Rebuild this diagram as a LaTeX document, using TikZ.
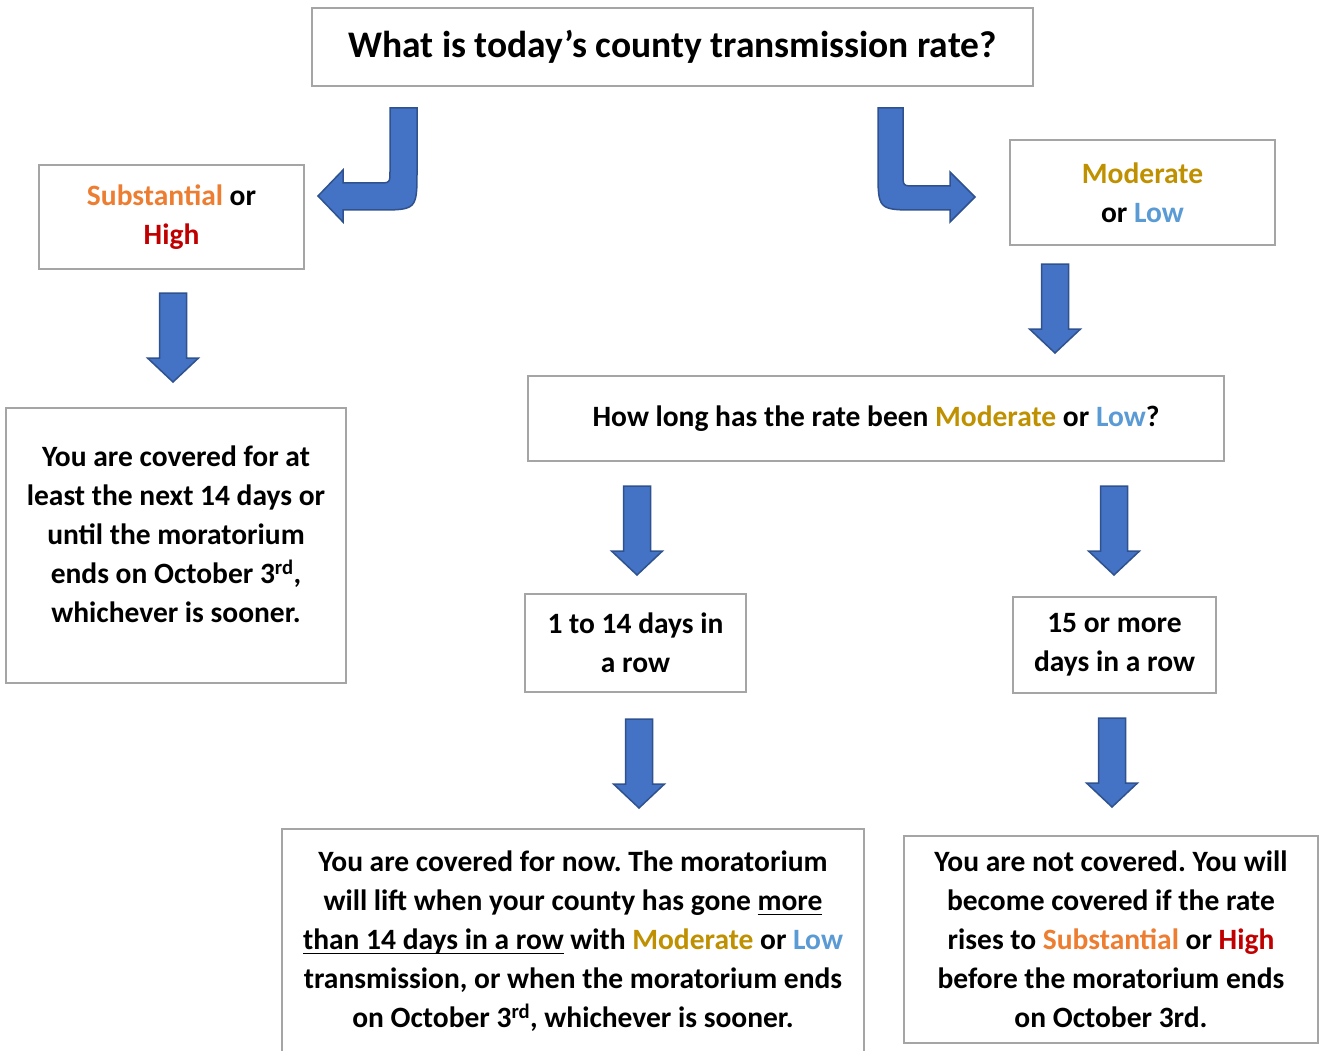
\documentclass[tikz,border=0pt]{standalone}
\usepackage{fontspec}
\setmainfont{Carlito}
\usepackage{tikz}

\definecolor{boxgray}{HTML}{A5A5A5}
\definecolor{arrowblue}{HTML}{4472C4}
\definecolor{arrowedge}{HTML}{2F528F}
\definecolor{suborange}{HTML}{ED7D31}
\definecolor{highred}{HTML}{C00000}
\definecolor{modgold}{HTML}{BF9000}
\definecolor{lowblue}{HTML}{5B9BD5}

\newcommand{\sub}{{\color{suborange}Substantial}}
\newcommand{\hig}{{\color{highred}High}}
\newcommand{\mdr}{{\color{modgold}Moderate}}
\newcommand{\lw}{{\color{lowblue}Low}}
\newcommand{\uln}[1]{\setbox0\hbox{#1}\rlap{\rule[-5pt]{\wd0}{1.5pt}}\box0\relax}
\frenchspacing

\begin{document}
\begin{tikzpicture}[x=1pt,y=-1pt,
  box/.style={draw=boxgray, line width=2pt, fill=white, align=center,
    font=\fontsize{29.5}{39}\selectfont\bfseries, inner sep=0pt},
  blockarrow/.style={fill=arrowblue, draw=arrowedge, line width=1.5pt},
  dnarrow/.pic={\path[blockarrow] (-13.5,0) -- (13.5,0) -- (13.5,65) -- (25.5,65)
    -- (0,89) -- (-25.5,65) -- (-13.5,65) -- cycle;}]
  \clip (0,0) rectangle (1320,1051);
  \fill[white] (0,0) rectangle (1320,1051);

  % question
  \node[box, font=\fontsize{37.5}{45}\selectfont\bfseries, minimum width=721, minimum height=78]
    (rate) at (672.5,47) {What is today’s county transmission rate?};

  % bent arrows
  \path[blockarrow] (390,108) -- (417,108) -- (417,170) .. controls (417,210) .. (377,210)
    -- (343,210) -- (343,222) -- (318,196) -- (343,170) -- (343,183) -- (378,183)
    .. controls (390,183) .. (390,171) -- cycle;
  \path[blockarrow] (878,108) -- (903,108) -- (903,174) .. controls (903,186) .. (915,186)
    -- (950,186) -- (950,172) -- (975,197) -- (950,222) -- (950,210) -- (918,210)
    .. controls (878,210) .. (878,170) -- cycle;

  % left branch
  \node[box, minimum width=265, minimum height=104] (high) at (171.5,217)
    {\sub{} or\\\hig};
  \pic at (173,293) {dnarrow};
  \node[box, minimum width=340, minimum height=275, text depth=22pt] (cov) at (176,545.5)
    {You are covered for at\\least the next 14 days or\\until the moratorium\\
     ends on October 3\textsuperscript{rd},\\whichever is sooner.};

  % right branch
  \node[box, minimum width=265, minimum height=105] (low) at (1142.5,192.5)
    {\mdr\\or \lw};
  \pic at (1055,264) {dnarrow};
  \node[box, minimum width=696, minimum height=85] (howlong) at (876,418.5)
    {How long has the rate been \mdr{} or \lw?};
  \pic at (637,486) {dnarrow};
  \pic at (1114,486) {dnarrow};
  \node[box, minimum width=221, minimum height=98] (short) at (635.5,643)
    {1 to 14 days in\\a row};
  \node[box, minimum width=203, minimum height=96] (long) at (1114.5,645)
    {15 or more\\days in a row};
  \pic at (639,719) {dnarrow};
  \pic at (1112,718) {dnarrow};
  \node[box, minimum width=582, minimum height=224] (now) at (573,941)
    {You are covered for now. The moratorium\\
     will lift when your county has gone \uln{more}\\
     \uln{than 14 days in a row} with \mdr{} or \lw\\
     transmission, or when the moratorium ends\\
     on October 3\textsuperscript{rd}, whichever is sooner.};
  \node[box, minimum width=414, minimum height=207] (notcov) at (1111,939.5)
    {You are not covered. You will\\become covered if the rate\\
     rises to \sub{} or \hig\\before the moratorium ends\\on October 3rd.};
\end{tikzpicture}
\end{document}
